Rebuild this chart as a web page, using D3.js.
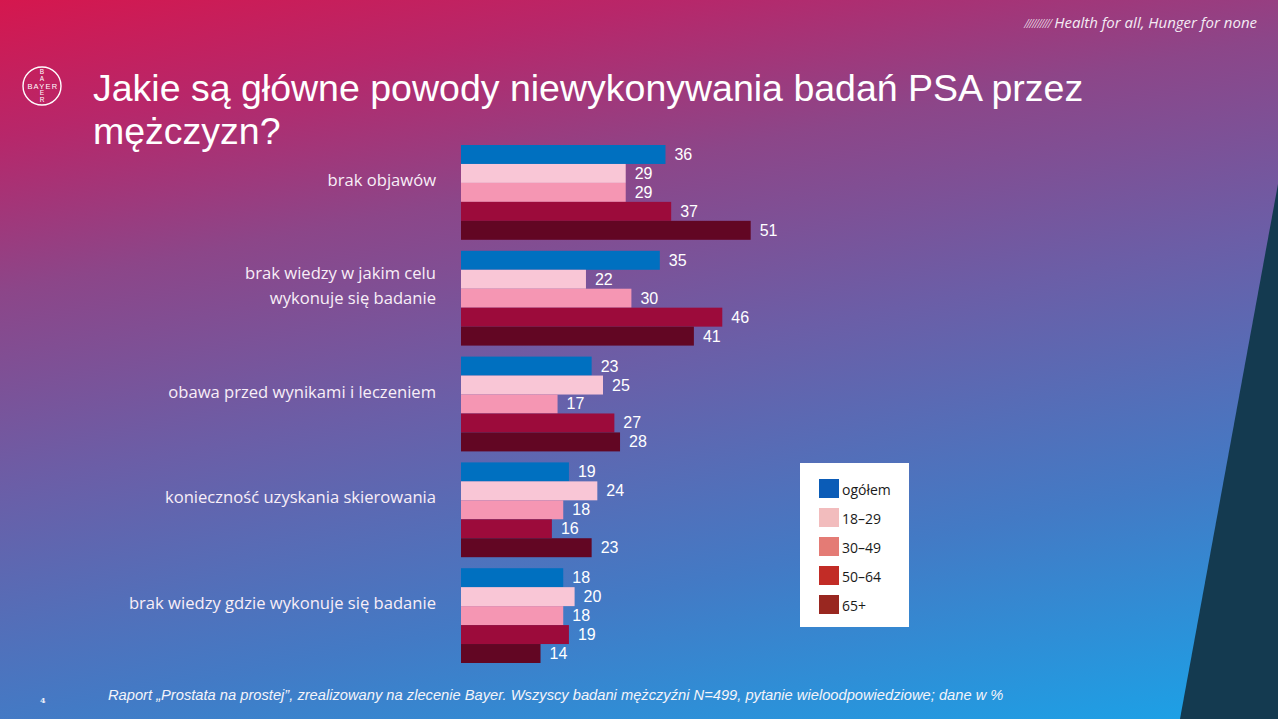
<!DOCTYPE html>
<html>
<head>
<meta charset="utf-8">
<script src="https://cdn.jsdelivr.net/npm/d3@7"></script>
<style>
  html, body { margin: 0; padding: 0; overflow: hidden; background: #6c5ea6; }
  svg { display: block; }
</style>
</head>
<body>
<div id="chart"></div>
<script>
// Reasons for not doing PSA tests, % of respondents by age group
const categories = [
  'brak objawów',
  'brak wiedzy w jakim celu\nwykonuje się badanie',
  'obawa przed wynikami i leczeniem',
  'konieczność uzyskania skierowania',
  'brak wiedzy gdzie wykonuje się badanie'
];
const seriesNames = ['ogółem', '18–29', '30–49', '50–64', '65+'];
const ogolem = [36, 35, 23, 19, 18];
const age18_29 = [29, 22, 25, 24, 20];
const age30_49 = [29, 30, 17, 18, 18];
const age50_64 = [37, 46, 27, 16, 19];
const age65plus = [51, 41, 28, 23, 14];
const seriesValues = [ogolem, age18_29, age30_49, age50_64, age65plus];

// bar fills vs. legend swatches (they differ on the original slide)
const barColors = ['#0070c0', '#f9c6d6', '#f596b3', '#9c0b3b', '#620623'];
const legendColors = ['#0b5cb7', '#f2bcbd', '#e47b75', '#c22c26', '#992720'];

const title = ['Jakie są główne powody niewykonywania badań PSA przez', 'mężczyzn?'];
const tagline = 'Health for all, Hunger for none';
const footnote = 'Raport „Prostata na prostej”, zrealizowany na zlecenie Bayer. Wszyscy badani mężczyźni N=499, pytanie wieloodpowiedziowe; dane w %';

const width = 1278;
const height = 719;

const svg = d3.select('#chart')
  .append('svg')
  .attr('width', width)
  .attr('height', height);

// Background gradient
const defs = svg.append('defs');
const bg = defs.append('linearGradient')
  .attr('id', 'bg-gradient')
  .attr('gradientUnits', 'userSpaceOnUse')
  .attr('x1', 0).attr('y1', 0)
  .attr('x2', 188).attr('y2', 938);

[
  [0, '#d5174e'],
  [0.14, '#b7276a'],
  [0.3, '#8c4689'],
  [0.5, '#6b5ea7'],
  [0.74, '#437ac5'],
  [1, '#1aa3e8']
].forEach(([o, c]) => {
  bg.append('stop').attr('offset', o).attr('stop-color', c);
});

svg.append('rect')
  .attr('width', width)
  .attr('height', height)
  .attr('fill', 'url(#bg-gradient)');

// Dark slanted panel at the right edge
svg.append('polygon')
  .attr('points', `${width},184 1180,${height} ${width},${height}`)
  .attr('fill', '#143a50');

// Tagline
const tag = svg.append('text')
  .attr('x', 1257)
  .attr('y', 28)
  .attr('text-anchor', 'end')
  .attr('font-family', '"Open Sans", sans-serif')
  .attr('font-style', 'italic')
  .attr('font-size', '15px')
  .attr('fill', '#f4ecf4');
tag.append('tspan')
  .attr('font-size', '13px')
  .attr('letter-spacing', '-1.6')
  .attr('font-weight', 300)
  .text('//////////');
tag.append('tspan').text(' ' + tagline);

// Bayer cross logo
const logo = svg.append('g').attr('transform', 'translate(42, 86)');
logo.append('circle')
  .attr('r', 19)
  .attr('fill', 'none')
  .attr('stroke', '#fff')
  .attr('stroke-width', 1.4);
const logoFamily = '"Liberation Sans", Arial, sans-serif';
logo.append('text')
  .attr('x', 0.8)
  .attr('y', 3)
  .attr('text-anchor', 'middle')
  .attr('font-family', logoFamily)
  .attr('font-size', '7.5px')
  .attr('letter-spacing', '1.2')
  .attr('fill', '#fff')
  .text('BAYER');
[['B', -15], ['A', -8], ['E', 6], ['R', 13]].forEach(([ch, dy]) => {
  logo.append('text')
    .attr('y', dy + 3)
    .attr('text-anchor', 'middle')
    .attr('font-family', logoFamily)
    .attr('font-size', '6.5px')
    .attr('fill', '#fff')
    .text(ch);
});

// Title
svg.append('text')
  .attr('x', 93)
  .attr('y', 101)
  .attr('font-family', '"Liberation Sans", Arial, sans-serif')
  .attr('font-size', '37.5px')
  .attr('fill', '#fff')
  .selectAll('tspan')
  .data(title)
  .join('tspan')
  .attr('x', 93)
  .attr('dy', (d, i) => i === 0 ? 0 : 43)
  .text(d => d);

// Scales
const y = d3.scaleBand()
  .domain(categories)
  .range([145, 663])
  .paddingInner(0.104)
  .paddingOuter(0);

const ySeries = d3.scaleBand()
  .domain(seriesNames)
  .range([0, y.bandwidth()])
  .padding(0);

const x = d3.scaleLinear()
  .domain([0, 100])
  .range([461, 461 + 568]);

// Bars
const groups = svg.append('g')
  .attr('class', 'bars')
  .selectAll('g')
  .data(categories)
  .join('g')
  .attr('transform', d => `translate(0, ${y(d)})`);

groups.each(function(cat, ci) {
  const g = d3.select(this);
  const rows = seriesNames.map((s, si) => ({ s, si, v: seriesValues[si][ci] }));

  g.selectAll('rect')
    .data(rows)
    .join('rect')
    .attr('x', x(0))
    .attr('y', d => ySeries(d.s))
    .attr('width', d => x(d.v) - x(0))
    .attr('height', ySeries.bandwidth())
    .attr('fill', d => barColors[d.si]);

  g.selectAll('text.value')
    .data(rows)
    .join('text')
    .attr('class', 'value')
    .attr('x', d => x(d.v) + 9)
    .attr('y', d => ySeries(d.s) + ySeries.bandwidth() / 2)
    .attr('dominant-baseline', 'central')
    .attr('font-family', '"Liberation Sans", Arial, sans-serif')
    .attr('font-size', '16px')
    .attr('fill', '#fff')
    .text(d => d.v);
});

// Category labels
const labelX = 436;
const labelLine = 25;
svg.append('g')
  .attr('class', 'cat-labels')
  .selectAll('text')
  .data(categories)
  .join('text')
  .attr('text-anchor', 'end')
  .attr('font-family', '"Open Sans", sans-serif')
  .attr('font-size', '16.6px')
  .attr('fill', '#f8eef7')
  .each(function(d) {
    const lines = d.split('\n');
    const cy = y(d) + y.bandwidth() / 2 - 13;
    const top = cy - (lines.length - 1) * labelLine / 2;
    d3.select(this).selectAll('tspan')
      .data(lines)
      .join('tspan')
      .attr('x', labelX)
      .attr('y', (l, i) => top + i * labelLine)
      .attr('dominant-baseline', 'central')
      .text(l => l);
  });

// Legend
const legend = svg.append('g')
  .attr('class', 'legend')
  .attr('transform', 'translate(800, 463)');

legend.append('rect')
  .attr('width', 109)
  .attr('height', 164)
  .attr('fill', '#fff');

const legendRow = d3.scaleBand()
  .domain(seriesNames)
  .range([16, 161])
  .padding(0);

const items = legend.selectAll('g.item')
  .data(seriesNames)
  .join('g')
  .attr('class', 'item')
  .attr('transform', d => `translate(19, ${legendRow(d)})`);

items.append('rect')
  .attr('width', 20)
  .attr('height', 19)
  .attr('fill', (d, i) => legendColors[i]);

items.append('text')
  .attr('x', 23)
  .attr('y', 10)
  .attr('dominant-baseline', 'central')
  .attr('font-family', '"Open Sans", sans-serif')
  .attr('font-size', '14px')
  .attr('fill', '#1a1a1a')
  .text(d => d);

// Footer
svg.append('text')
  .attr('x', 40)
  .attr('y', 703)
  .attr('font-family', '"DejaVu Serif", serif')
  .attr('font-size', '8px')
  .attr('font-weight', 'bold')
  .attr('fill', '#e8eef8')
  .text('4');

svg.append('text')
  .attr('x', 108)
  .attr('y', 700)
  .attr('font-family', '"Liberation Sans", Arial, sans-serif')
  .attr('font-style', 'italic')
  .attr('font-size', '14.7px')
  .attr('fill', '#f4f4fa')
  .text(footnote);
</script>
</body>
</html>
